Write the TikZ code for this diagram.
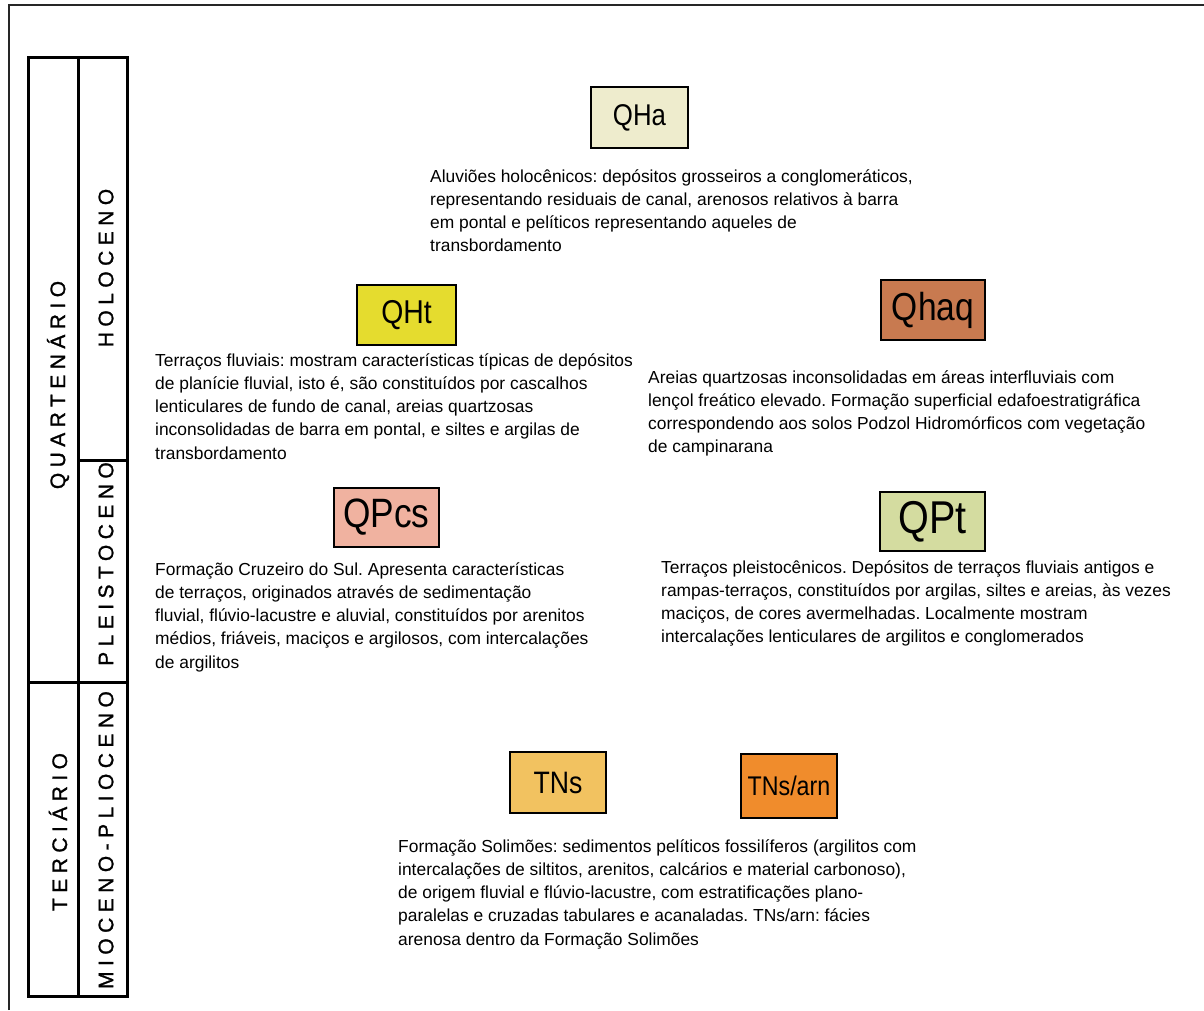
\documentclass[tikz,border=0pt]{standalone}
\usepackage{fontspec}
\setmainfont{Liberation Sans}
\newfontfamily\erafont[LetterSpace=26,FakeBold=1.2]{Liberation Sans}
\newfontfamily\unitfont[FakeStretch=0.86]{Liberation Sans}
\usetikzlibrary{positioning}
\frenchspacing

\definecolor{qhaFill}{HTML}{EEECCD}
\definecolor{qhtFill}{HTML}{E5DC2E}
\definecolor{qhaqFill}{HTML}{C87A50}
\definecolor{qpcsFill}{HTML}{F0B2A0}
\definecolor{qptFill}{HTML}{D4DCA0}
\definecolor{tnsFill}{HTML}{F2C260}
\definecolor{tnsarnFill}{HTML}{F08C2C}

\begin{document}
\begin{tikzpicture}[
    x=1pt, y=-1pt,
% unit box style
    unitbox/.style={rectangle,draw,line width=2.5pt,inner sep=0pt,anchor=center},
    desc/.style={anchor=north west,inner sep=0pt,align=left,
		font={\fontsize{17.4}{23.3}\selectfont}},
% era / epoch column text
    era/.style={rotate=90,inner sep=0pt,font={\erafont\fontsize{21}{21}\selectfont}}
    ]

  \useasboundingbox (0,0) rectangle (1204,1010);

  % outer frame
  \draw[line width=2.5pt,black!85] (9,1010) -- (9,5) -- (1204,5);

  % time column
  \draw[line width=3pt] (28,57) rectangle (127,996);
  \draw[line width=3pt] (78,57) -- (78,996);
  \draw[line width=3pt] (78,460) -- (127,460);
  \draw[line width=3pt] (28,682) -- (127,682);

  \node (quat) [era] at (58,385) {QUARTENÁRIO};
  \node (terc) [era] at (58,832) {TERCIÁRIO};
  \node (holo) [era] at (106,268) {HOLOCENO};
  \node (pleist) [era] at (106,564) {PLEISTOCENO};
  \node (mioplio) [era] at (106,840) {MIOCENO-PLIOCENO};

  % legend boxes
  \node (qha) [unitbox,fill=qhaFill,minimum width=97pt,minimum height=61pt,
	font={\unitfont\fontsize{30}{30}\selectfont}] at (639.5,117.5) {QHa};
  \node (qht) [unitbox,fill=qhtFill,minimum width=99pt,minimum height=60pt,
	font={\unitfont\fontsize{33}{33}\selectfont}] at (406.5,315) {QHt};
  \node (qhaq) [unitbox,fill=qhaqFill,minimum width=104pt,minimum height=60pt,
	font={\unitfont\fontsize{39}{39}\selectfont}] at (933,310) {Qhaq};
  \node (qpcs) [unitbox,fill=qpcsFill,minimum width=105pt,minimum height=59pt,
	font={\unitfont\fontsize{41}{41}\selectfont}] at (386.5,517.5) {QPcs};
  \node (qpt) [unitbox,fill=qptFill,minimum width=105pt,minimum height=59pt,
	font={\unitfont\fontsize{46}{46}\selectfont}] at (932.5,521.5) {QPt};
  \node (tns) [unitbox,fill=tnsFill,minimum width=96pt,minimum height=61pt,
	font={\unitfont\fontsize{31}{31}\selectfont}] at (558,782.5) {TNs};
  \node (tnsarn) [unitbox,fill=tnsarnFill,minimum width=96pt,minimum height=64pt,
	font={\unitfont\fontsize{27}{27}\selectfont}] at (789,786) {TNs/arn};

  % descriptions
  \node (qhaDesc) [desc] at (430,169) {Aluviões holocênicos: depósitos grosseiros a conglomeráticos,\\
    representando residuais de canal, arenosos relativos à barra\\
    em pontal e pelíticos representando aqueles de\\
    transbordamento};
  \node (qhtDesc) [desc] at (155,353) {Terraços fluviais: mostram características típicas de depósitos\\
    de planície fluvial, isto é, são constituídos por cascalhos\\
    lenticulares de fundo de canal, areias quartzosas\\
    inconsolidadas de barra em pontal, e siltes e argilas de\\
    transbordamento};
  \node (qhaqDesc) [desc] at (648,370) {Areias quartzosas inconsolidadas em áreas interfluviais com\\
    lençol freático elevado. Formação superficial edafoestratigráfica\\
    correspondendo aos solos Podzol Hidromórficos com vegetação\\
    de campinarana};
  \node (qpcsDesc) [desc] at (155,562) {Formação Cruzeiro do Sul. Apresenta características\\
    de terraços, originados através de sedimentação\\
    fluvial, flúvio-lacustre e aluvial, constituídos por arenitos\\
    médios, friáveis, maciços e argilosos, com intercalações\\
    de argilitos};
  \node (qptDesc) [desc] at (661,560) {Terraços pleistocênicos. Depósitos de terraços fluviais antigos e\\
    rampas-terraços, constituídos por argilas, siltes e areias, às vezes\\
    maciços, de cores avermelhadas. Localmente mostram\\
    intercalações lenticulares de argilitos e conglomerados};
  \node (tnsDesc) [desc] at (398,839) {Formação Solimões: sedimentos pelíticos fossilíferos (argilitos com\\
    intercalações de siltitos, arenitos, calcários e material carbonoso),\\
    de origem fluvial e flúvio-lacustre, com estratificações plano-\\
    paralelas e cruzadas tabulares e acanaladas. TNs/arn: fácies\\
    arenosa dentro da Formação Solimões};

\end{tikzpicture}
\end{document}
